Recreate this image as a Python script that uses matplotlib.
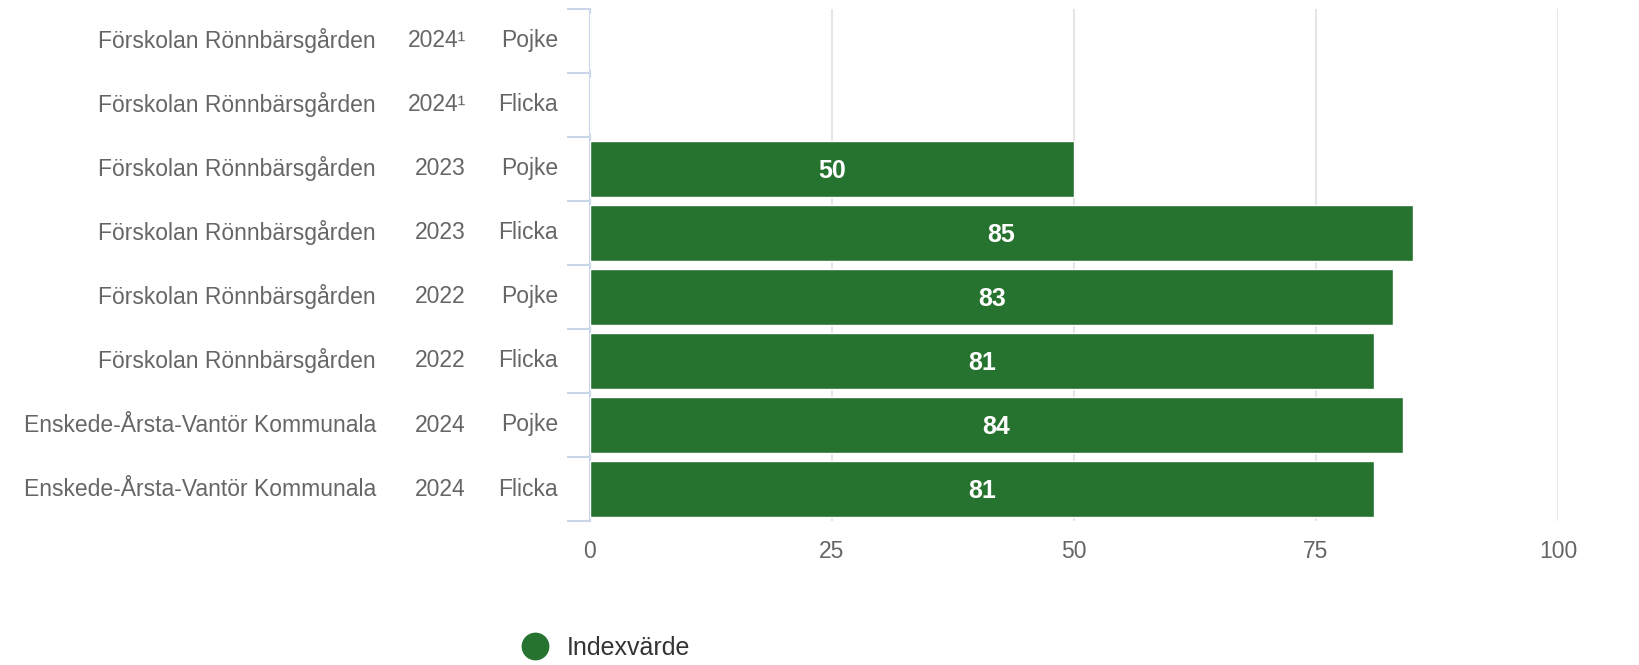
import numpy as np
import matplotlib
matplotlib.use("Agg")
import matplotlib.pyplot as plt
from matplotlib.lines import Line2D

plt.rcParams["font.family"] = ["Liberation Sans", "DejaVu Sans"]

# data (top to bottom)
units = ["Förskolan Rönnbärsgården"] * 6 + ["Enskede-Årsta-Vantör Kommunala"] * 2
years = ["2024¹", "2024¹", "2023", "2023", "2022", "2022", "2024", "2024"]
genders = ["Pojke", "Flicka", "Pojke", "Flicka", "Pojke", "Flicka", "Pojke", "Flicka"]
values = [np.nan, np.nan, 50, 85, 83, 81, 84, 81]
xticks = [0, 25, 50, 75, 100]

GREEN = "#267330"
GREY = "#666666"

fig = plt.figure(figsize=(16.4, 6.65), dpi=100)
ax = fig.add_axes([590 / 1640, 1 - 521 / 665, 968 / 1640, 512 / 665])

n = len(values)
ypos = np.arange(n)
vals = np.nan_to_num(np.array(values, dtype=float))
ax.barh(ypos, vals, height=0.89, color=GREEN, edgecolor="white", linewidth=1, zorder=3)
for y, v in zip(ypos, values):
    if not np.isnan(v):
        ax.text(v / 2, y + 0.03, f"{v:.0f}", ha="center", va="center", color="white",
                fontsize=18, fontweight="bold", zorder=4)

ax.set_xlim(0, 100)
ax.set_ylim(n - 0.5, -0.5)
ax.set_xticks(xticks)
ax.set_xticklabels([str(t) for t in xticks], fontsize=16.5, color=GREY)
ax.tick_params(axis="x", length=0, pad=14)
ax.grid(axis="x", color="#e6e6e6", linewidth=1.5, zorder=0)
ax.set_yticks([])
for s in ["top", "right", "bottom"]:
    ax.spines[s].set_visible(False)
ax.spines["left"].set_color("#ccd6eb")
ax.spines["left"].set_linewidth(1.5)

# category boundary ticks
for b in np.arange(-0.5, n, 1.0):
    ax.plot([-22 / 9.68, 0], [b, b], color="#ccd6eb", lw=1.5, clip_on=False, zorder=2)

# three label columns
for y, u, yr, g in zip(ypos, units, years, genders):
    ax.annotate(u, (0, y), xytext=(376 - 590, 0), textcoords="offset pixels",
                ha="right", va="center", fontsize=16.5, color=GREY, annotation_clip=False)
    ax.annotate(yr, (0, y), xytext=(466 - 590, 0), textcoords="offset pixels",
                ha="right", va="center", fontsize=16.5, color=GREY, annotation_clip=False)
    ax.annotate(g, (0, y), xytext=(558 - 590, 0), textcoords="offset pixels",
                ha="right", va="center", fontsize=16.5, color=GREY, annotation_clip=False)

handle = Line2D([], [], marker="o", linestyle="none", markersize=19,
                markerfacecolor=GREEN, markeredgecolor=GREEN)
fig.legend([handle], ["Indexvärde"], loc="center", bbox_to_anchor=(600 / 1640, 1 - 648 / 665),
           frameon=False, fontsize=18, labelcolor="#333333", handletextpad=0.3)

fig.savefig("out.png", dpi=100)
